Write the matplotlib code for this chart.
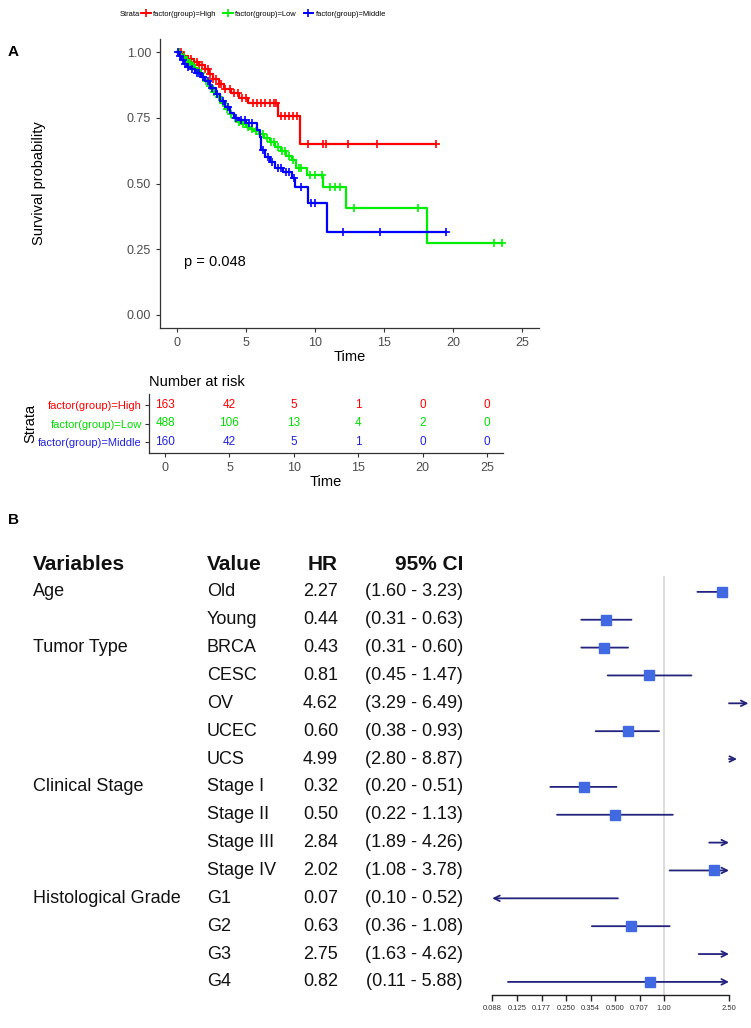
import numpy as np
import matplotlib
matplotlib.use("Agg")
import matplotlib.pyplot as plt
from matplotlib.lines import Line2D
from matplotlib import transforms
from matplotlib import font_manager

plt.rcParams['font.family'] = ['Liberation Sans', 'DejaVu Sans']

# ---- Kaplan-Meier data (step points) ----
red_t = [0.4, 0.8, 1.2, 1.6, 2.0, 2.3, 2.6, 3.0, 3.4, 3.9, 4.5, 5.1, 7.3, 8.9]
red_s = [0.985, 0.975, 0.963, 0.952, 0.935, 0.915, 0.898, 0.877, 0.86, 0.843, 0.826, 0.806, 0.757, 0.649]
red_cens = [0.1, 0.3, 0.5, 0.8, 1.0, 1.2, 1.4, 1.6, 1.8, 2.0, 2.2, 2.4, 2.6, 2.8, 3.0, 3.2, 3.5,
            3.8, 4.1, 4.4, 4.7, 5.0, 5.5, 5.8, 6.1, 6.4, 6.7, 7.0, 7.2, 7.5, 7.8, 8.1, 8.4, 8.7,
            9.5, 10.6, 10.8, 12.4, 14.5, 18.8]

green_t = [0.2, 0.4, 0.6, 0.8, 1.0, 1.2, 1.4, 1.6, 1.8, 2.0, 2.3, 2.6, 2.9, 3.2, 3.5, 3.8, 4.1,
           4.4, 4.7, 5.0, 5.3, 5.6, 5.9, 6.3, 6.7, 7.1, 7.5, 7.9, 8.3, 8.6, 9.4, 10.6, 12.25, 18.1]
green_s = [0.99, 0.98, 0.97, 0.96, 0.95, 0.94, 0.93, 0.92, 0.905, 0.89, 0.87, 0.85, 0.83, 0.805,
           0.785, 0.765, 0.75, 0.735, 0.725, 0.715, 0.708, 0.70, 0.69, 0.675, 0.658, 0.64, 0.625,
           0.605, 0.59, 0.558, 0.532, 0.488, 0.405, 0.272]
green_cens = [0.1, 0.3, 0.5, 0.7, 0.9, 1.1, 1.3, 1.5, 1.7, 1.9, 2.1, 2.4, 2.7, 3.0, 3.3, 3.6,
              3.9, 4.2, 4.5, 4.8, 5.1, 5.4, 5.7, 6.0, 6.2, 6.5, 6.8, 7.0, 7.3, 7.6, 7.8, 8.1,
              8.4, 8.8, 9.0, 9.6, 10.0, 10.5, 11.1, 11.45, 11.8, 12.8, 17.5, 23.0, 23.6]

blue_t = [0.1, 0.3, 0.5, 0.7, 1.0, 1.3, 1.7, 2.05, 2.4, 2.78, 3.1, 3.5, 3.8, 4.1, 4.45, 5.0, 5.8,
          6.0, 6.1, 6.4, 6.75, 7.1, 7.7, 8.3, 8.55, 9.5, 10.85]
blue_s = [0.985, 0.97, 0.955, 0.945, 0.935, 0.921, 0.905, 0.89, 0.865, 0.839, 0.815, 0.79, 0.77,
          0.75, 0.74, 0.73, 0.703, 0.678, 0.627, 0.60, 0.583, 0.558, 0.545, 0.52, 0.488, 0.425, 0.317]
blue_cens = [0.05, 0.2, 0.4, 0.6, 0.8, 1.1, 1.4, 1.6, 1.9, 2.2, 2.5, 2.9, 3.3, 3.7, 4.3, 4.6,
             4.9, 5.2, 5.4, 6.2, 6.6, 6.9, 7.3, 7.5, 7.9, 8.1, 8.5, 9.0, 9.7, 10.0, 12.0, 14.7, 19.5]

p_text = "p = 0.048"

# ---- number at risk ----
risk_times = [0, 5, 10, 15, 20, 25]
risk_high = [163, 42, 5, 1, 0, 0]
risk_low = [488, 106, 13, 4, 2, 0]
risk_middle = [160, 42, 5, 1, 0, 0]
strata = ["factor(group)=High", "factor(group)=Low", "factor(group)=Middle"]
colors = ["#FF0000", "#00EE00", "#0000FF"]
risk_colors = ["#FF0000", "#00DD00", "#2222DD"]

# ---- forest plot data ----
variables = ["Age", "", "Tumor Type", "", "", "", "", "Clinical Stage", "", "", "",
             "Histological Grade", "", "", ""]
values = ["Old", "Young", "BRCA", "CESC", "OV", "UCEC", "UCS", "Stage I", "Stage II",
          "Stage III", "Stage IV", "G1", "G2", "G3", "G4"]
hr = [2.27, 0.44, 0.43, 0.81, 4.62, 0.60, 4.99, 0.32, 0.50, 2.84, 2.02, 0.07, 0.63, 2.75, 0.82]
lo = [1.60, 0.31, 0.31, 0.45, 3.29, 0.38, 2.80, 0.20, 0.22, 1.89, 1.08, 0.10, 0.36, 1.63, 0.11]
hi = [3.23, 0.63, 0.60, 1.47, 6.49, 0.93, 8.87, 0.51, 1.13, 4.26, 3.78, 0.52, 1.08, 4.62, 5.88]
forest_ticks = [0.088, 0.125, 0.177, 0.250, 0.354, 0.500, 0.707, 1.00, 2.50]
forest_labels = ["0.088", "0.125", "0.177", "0.250", "0.354", "0.500", "0.707", "1.00", "2.50"]
clip_lo, clip_hi = 0.088, 2.5

W, H = 751, 1028
fig = plt.figure(figsize=(W / 100, H / 100), dpi=100)


def box(x0, y0, x1, y1):
    # pixel box (top-left origin) -> figure fraction rect
    return [x0 / W, 1 - y1 / H, (x1 - x0) / W, (y1 - y0) / H]


axis_col = "#333333"
tick_col = "#4D4D4D"

# narrow font for the top legend if it is there
names = {f.name for f in font_manager.fontManager.ttflist}
legend_font = 'Liberation Sans Narrow' if 'Liberation Sans Narrow' in names else 'Liberation Sans'
legend_size = 6.3 if legend_font == 'Liberation Sans Narrow' else 5.4

# ================= A: survival curves =================
ax = fig.add_axes(box(160, 39, 539, 328))
curves = [(red_t, red_s, red_cens), (green_t, green_s, green_cens), (blue_t, blue_s, blue_cens)]
for (t, s, cens), c in zip(curves, colors):
    end = max(cens)
    tt = np.r_[0, t, end]
    ss = np.r_[1.0, s, s[-1]]
    ax.step(tt, ss, where='post', color=c, lw=1.6)
    cens = np.array(cens)
    idx = np.searchsorted(tt, cens, side='right') - 1
    ax.plot(cens, ss[idx], '+', color=c, ms=6, mew=1.2, ls='none')

ax.set_xlim(-1.25, 26.25)
ax.set_ylim(-0.05, 1.05)
ax.set_xticks([0, 5, 10, 15, 20, 25])
ax.set_yticks([0, 0.25, 0.5, 0.75, 1.0])
ax.set_yticklabels(["0.00", "0.25", "0.50", "0.75", "1.00"])
for sp in ['top', 'right']:
    ax.spines[sp].set_visible(False)
for sp in ['left', 'bottom']:
    ax.spines[sp].set_color(axis_col)
    ax.spines[sp].set_linewidth(0.9)
ax.tick_params(colors=axis_col, labelcolor=tick_col, labelsize=9, length=3)
ax.set_xlabel("Time", fontsize=10.5, labelpad=1)
ax.set_ylabel("Survival probability", fontsize=10.5, labelpad=58)
ax.text(0.5, 0.2, p_text, fontsize=10.5, va='center', ha='left')

# legend on top
fig.text(120 / W, 1 - 14 / H, "Strata", fontsize=legend_size, family=legend_font,
         va='center', ha='left')
handles = [Line2D([], [], color=c, lw=1.4, marker='+', ms=6, mew=1.2) for c in colors]
fig.legend(handles, strata, loc='center left', bbox_to_anchor=(141 / W, 1 - 14 / H),
           ncol=3, frameon=False, prop={'family': legend_font, 'size': legend_size},
           handlelength=1.3, handletextpad=0.3, columnspacing=0.9,
           borderaxespad=0, borderpad=0)

fig.text(8 / W, 1 - 52 / H, "A", fontsize=11, fontweight='bold', va='center')

# ================= risk table =================
axr = fig.add_axes(box(149, 394, 503, 453))
rows = [3, 2, 1]
for counts, r, c in zip([risk_high, risk_low, risk_middle], rows, risk_colors):
    for t, n in zip(risk_times, counts):
        axr.text(t, r, str(n), ha='center', va='center', color=c, fontsize=8.5)
axr.set_xlim(-1.25, 26.25)
axr.set_ylim(0.4, 3.6)
axr.set_yticks(rows)
axr.set_yticklabels(strata)
axr.set_xticks(risk_times)
for sp in ['top', 'right']:
    axr.spines[sp].set_visible(False)
for sp in ['left', 'bottom']:
    axr.spines[sp].set_color(axis_col)
    axr.spines[sp].set_linewidth(0.9)
axr.tick_params(axis='y', labelsize=8.0, length=3, colors=axis_col, pad=2)
for lab, c in zip(axr.get_yticklabels(), risk_colors):
    lab.set_color(c)
axr.tick_params(axis='x', labelsize=9, length=3, colors=axis_col, labelcolor=tick_col)
axr.set_xlabel("Time", fontsize=10.5, labelpad=1)
axr.set_ylabel("Strata", fontsize=10.5, labelpad=1)
axr.set_title("Number at risk", loc='left', fontsize=10.5, pad=6)

# ================= B: forest plot =================
fig.text(8 / W, 1 - 520 / H, "B", fontsize=11, fontweight='bold', va='center')

axf = fig.add_axes(box(492.2, 576, 729, 995))
axf.set_xscale('log', base=2)
axf.set_xlim(clip_lo, clip_hi)
n = len(values)
axf.set_ylim(n - 1 + 0.47, -0.57)
axf.axvline(1.0, color='#D9D9D9', lw=1.3, zorder=0)

navy = "#23237E"
sq = "#4169E1"
for i in range(n):
    arrow_kw = dict(color=navy, lw=1.3, shrinkA=0, shrinkB=0, mutation_scale=10)
    if lo[i] > clip_hi:
        axf.annotate('', xy=(lo[i], i), xytext=(clip_hi, i), annotation_clip=False,
                     arrowprops=dict(arrowstyle='->', **arrow_kw))
        continue
    left = max(lo[i], clip_lo)
    right = min(hi[i], clip_hi)
    left_arrow = min(lo[i], hr[i]) < clip_lo
    right_arrow = hi[i] > clip_hi
    if left_arrow:
        left = clip_lo
    if left_arrow and right_arrow:
        style = '<->'
    elif right_arrow:
        style = '->'
    elif left_arrow:
        style = '<-'
    else:
        style = '-'
    axf.annotate('', xy=(right, i), xytext=(left, i), annotation_clip=False,
                 arrowprops=dict(arrowstyle=style, **arrow_kw))
    if clip_lo <= hr[i] <= clip_hi:
        axf.plot(hr[i], i, 's', color=sq, ms=6.5, mec=sq, zorder=5)

axf.set_xticks(forest_ticks)
axf.set_xticklabels(forest_labels)
axf.xaxis.set_minor_locator(matplotlib.ticker.NullLocator())
axf.set_yticks([])
for sp in ['top', 'right', 'left']:
    axf.spines[sp].set_visible(False)
axf.spines['bottom'].set_color('#222222')
axf.spines['bottom'].set_linewidth(1.0)
axf.tick_params(axis='x', labelsize=5.5, length=4, width=1.0, colors='#222222',
                labelcolor='#333333', pad=3)

# table text
tr = transforms.blended_transform_factory(fig.transFigure, axf.transData)
hdr_y = -1.0
fig_txt = dict(transform=tr, va='center', fontsize=13, color='#111111')
hdr_txt = {**fig_txt, 'fontsize': 15, 'fontweight': 'bold'}
axf.text(33 / W, hdr_y, "Variables", ha='left', **hdr_txt)
axf.text(207 / W, hdr_y, "Value", ha='left', **hdr_txt)
axf.text(338 / W, hdr_y, "HR", ha='right', **hdr_txt)
axf.text(463 / W, hdr_y, "95% CI", ha='right', **hdr_txt)
for i in range(n):
    if variables[i]:
        axf.text(33 / W, i, variables[i], ha='left', **fig_txt)
    axf.text(207 / W, i, values[i], ha='left', **fig_txt)
    axf.text(338 / W, i, f"{hr[i]:.2f}", ha='right', **fig_txt)
    axf.text(463 / W, i, f"({lo[i]:.2f} - {hi[i]:.2f})", ha='right', **fig_txt)

fig.savefig("out.png", dpi=100)
